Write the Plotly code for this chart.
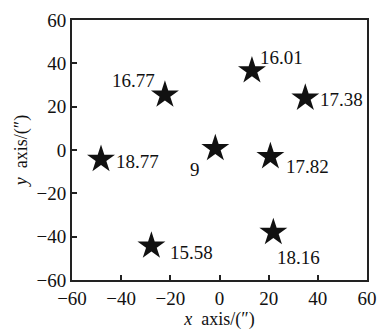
import plotly.graph_objects as go

# data
x_vals = [-22.2, 13.2, 34.9, -48.2, -1.7, 20.7, -27.7, 21.9]
y_vals = [25.4, 36.6, 24.0, -4.3, 0.7, -3.0, -44.3, -38.0]
labels = ["16.77", "16.01", "17.38", "18.77", "9", "17.82", "15.58", "18.16"]
tick_vals = [-60, -40, -20, 0, 20, 40, 60]
tick_text = ["\u221260", "\u221240", "\u221220", "0", "20", "40", "60"]

# label offsets in pixels (style)
dx = [-31, 30, 36, 36, -20, 37, 40, 25]
dy = [14, 13, -1, -2, -21, -10, -7, -25]

FONT = "'Liberation Serif', 'Times New Roman', serif"
INK = "#111111"
fig = go.Figure()
fig.add_trace(go.Scatter(
    x=x_vals, y=y_vals, mode="markers",
    marker=dict(symbol="star", size=21, color=INK, line=dict(width=0)),
    showlegend=False, hoverinfo="skip"))

for xv, yv, lab, ox, oy in zip(x_vals, y_vals, labels, dx, dy):
    fig.add_annotation(x=xv, y=yv, text=lab, showarrow=False,
                       xshift=ox, yshift=oy,
                       font=dict(family=FONT, size=19, color=INK))

axis_common = dict(
    range=[-60, 60], tickvals=tick_vals, ticktext=tick_text,
    showgrid=False, zeroline=False, showline=True, linecolor="#222",
    linewidth=2, mirror=True, ticks="inside", ticklen=5, tickwidth=1.5,
    tickcolor="#222", tickfont=dict(family=FONT, size=19, color=INK),
)
fig.update_xaxes(**axis_common,
                 title=dict(text="<i>x</i>  axis/(\u2033)", standoff=2,
                            font=dict(family=FONT, size=18, color=INK)))
fig.update_yaxes(**axis_common,
                 title=dict(text="<i>y</i>  axis/(\u2033)", standoff=4,
                            font=dict(family=FONT, size=18, color=INK)))

fig.update_layout(
    width=387, height=333,
    margin=dict(l=72, r=10, t=20, b=46),
    plot_bgcolor="white", paper_bgcolor="white",
    font=dict(family=FONT),
)
fig.write_html("out.html", config={"displayModeBar": False},
               post_script="document.body.style.margin='0';document.body.style.overflow='hidden';")
